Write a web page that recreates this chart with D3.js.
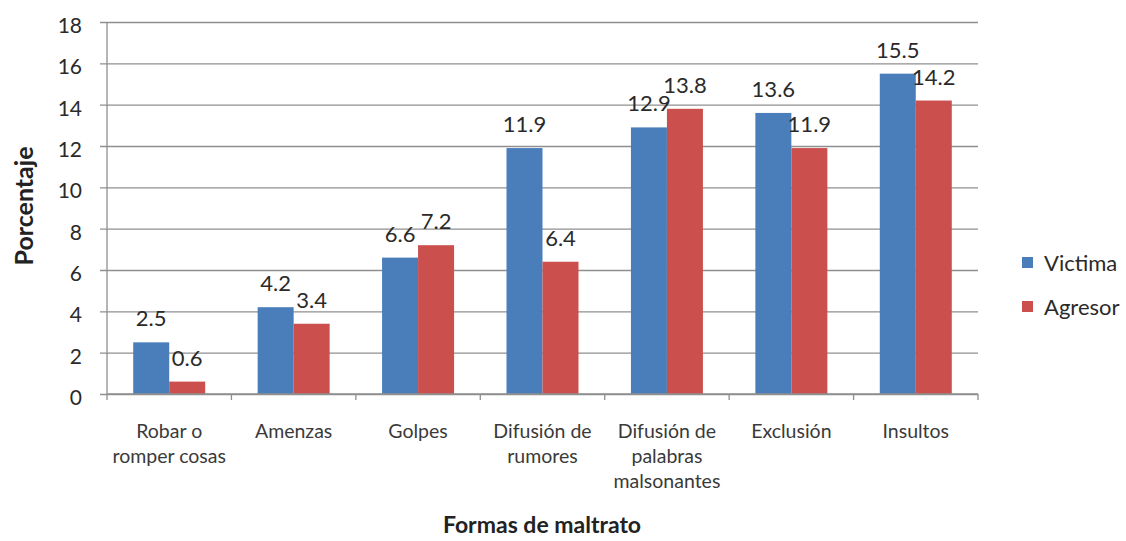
<!DOCTYPE html>
<html>
<head>
<meta charset="utf-8">
<script src="https://cdn.jsdelivr.net/npm/d3@7"></script>
<style>
  body { margin: 0; background: #fff; }
  text { font-family: Lato, "Open Sans", sans-serif; fill: #222; }
</style>
</head>
<body>
<div id="chart"></div>
<script>
var categories = [
  ["Robar o", "romper cosas"],
  ["Amenzas"],
  ["Golpes"],
  ["Difusión de", "rumores"],
  ["Difusión de", "palabras", "malsonantes"],
  ["Exclusión"],
  ["Insultos"]
];
var victima = [2.5, 4.2, 6.6, 11.9, 12.9, 13.6, 15.5];
var agresor = [0.6, 3.4, 7.2, 6.4, 13.8, 11.9, 14.2];
var seriesNames = ["Victima", "Agresor"];
var yTicks = [0, 2, 4, 6, 8, 10, 12, 14, 16, 18];

var colors = ["#4A7EBB", "#CB504D"];

var dim = {
  width: 1126,
  height: 541,
  margin: { top: 22, bottom: 147, left: 107, right: 148 }
};
dim.ctrWidth = dim.width - dim.margin.left - dim.margin.right;
dim.ctrHeight = dim.height - dim.margin.top - dim.margin.bottom;

var svg = d3.select("#chart")
  .append("svg")
  .attr("width", dim.width)
  .attr("height", dim.height);

var ctr = svg.append("g")
  .attr("transform", `translate(${dim.margin.left},${dim.margin.top})`);

var idx = d3.range(categories.length);

var xScale = d3.scaleBand()
  .domain(idx)
  .range([0, dim.ctrWidth])
  .paddingInner(0)
  .paddingOuter(0);

var inner = d3.scaleBand()
  .domain([0, 1])
  .range([(xScale.bandwidth() - 72) / 2, (xScale.bandwidth() + 72) / 2]);

var yScale = d3.scaleLinear()
  .domain([0, 18])
  .range([dim.ctrHeight, 0]);

// gridlines + y axis
var yAxis = d3.axisLeft(yScale)
  .tickValues(yTicks)
  .tickSize(-dim.ctrWidth)
  .tickPadding(25)
  .tickFormat(d3.format("d"));

var yg = ctr.append("g").call(yAxis);
yg.select(".domain").remove();
yg.selectAll(".tick line")
  .attr("x1", -7)
  .attr("stroke", "#8f8f8f")
  .attr("stroke-width", 1.3);
yg.selectAll(".tick text")
  .attr("dy", "0.5em")
  .style("font-size", "21px")
  .style("fill", "#2a2a2a");

ctr.append("line")
  .attr("x1", 0).attr("x2", 0)
  .attr("y1", 0).attr("y2", dim.ctrHeight)
  .attr("stroke", "#8f8f8f")
  .attr("stroke-width", 1.3);

// bars
var series = [victima, agresor];
series.forEach(function(vals, s) {
  var g = ctr.append("g");
  g.selectAll("rect")
    .data(vals)
    .join("rect")
    .attr("x", (d, i) => xScale(i) + inner(s))
    .attr("width", inner.bandwidth())
    .attr("y", d => yScale(d))
    .attr("height", d => dim.ctrHeight - yScale(d))
    .attr("fill", colors[s]);

  g.selectAll("text")
    .data(vals)
    .join("text")
    .attr("x", (d, i) => xScale(i) + inner(s) + inner.bandwidth() / 2)
    .attr("y", d => yScale(d) - 16)
    .attr("text-anchor", "middle")
    .style("font-size", "22px")
    .style("fill", "#2a2a2a")
    .text(d => d3.format(".1f")(d));
});

// x axis
ctr.append("line")
  .attr("x1", 0).attr("x2", dim.ctrWidth)
  .attr("y1", dim.ctrHeight).attr("y2", dim.ctrHeight)
  .attr("stroke", "#8f8f8f")
  .attr("stroke-width", 1.3);

ctr.append("g")
  .selectAll("line")
  .data(d3.range(categories.length + 1))
  .join("line")
  .attr("x1", d => d * xScale.step())
  .attr("x2", d => d * xScale.step())
  .attr("y1", dim.ctrHeight)
  .attr("y2", dim.ctrHeight + 6)
  .attr("stroke", "#8f8f8f")
  .attr("stroke-width", 1.3);

var catLabels = ctr.append("g")
  .selectAll("text")
  .data(categories)
  .join("text")
  .attr("text-anchor", "middle")
  .attr("transform", (d, i) => `translate(${xScale(i) + xScale.bandwidth() / 2},${dim.ctrHeight + 44})`)
  .style("font-size", "19.5px")
  .style("fill", "#3a3a3a");

catLabels.selectAll("tspan")
  .data(d => d)
  .join("tspan")
  .attr("x", 0)
  .attr("y", (d, i) => i * 25)
  .text(d => d);

// axis titles
svg.append("text")
  .attr("x", 542)
  .attr("y", 533)
  .attr("text-anchor", "middle")
  .style("font-size", "23px")
  .style("font-weight", "bold")
  .text("Formas de maltrato");

svg.append("text")
  .attr("transform", "translate(33,206) rotate(-90)")
  .attr("text-anchor", "middle")
  .style("font-size", "25px")
  .style("font-weight", "bold")
  .text("Porcentaje");

// legend
var legend = svg.append("g")
  .attr("transform", "translate(1022,257)");

legend.selectAll("rect")
  .data(seriesNames)
  .join("rect")
  .attr("x", 0)
  .attr("y", (d, i) => i * 44)
  .attr("width", 11)
  .attr("height", 11)
  .attr("fill", (d, i) => colors[i]);

legend.selectAll("text")
  .data(seriesNames)
  .join("text")
  .attr("x", 22)
  .attr("y", (d, i) => i * 44 + 14)
  .style("font-size", "22px")
  .style("fill", "#2a2a2a")
  .text(d => d);
</script>
</body>
</html>
